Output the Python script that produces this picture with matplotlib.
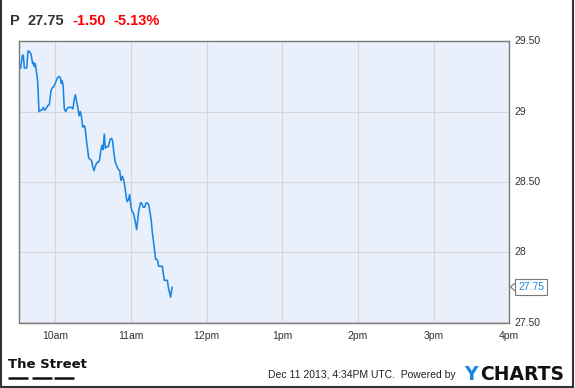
import matplotlib
matplotlib.use("Agg")
import matplotlib.pyplot as plt
from matplotlib.lines import Line2D

plt.rcParams['font.family'] = ['Liberation Sans', 'DejaVu Sans']

# minutes after 9:30 and price
minutes = [2.5, 3.8, 4.6, 5.4, 7.3, 8.3, 9.1, 10.7, 12.0, 12.8, 13.3, 14.1, 15.2, 16.0,
           17.0, 18.4, 19.2, 20.5, 21.5, 22.6, 23.7, 25.2, 26.6, 27.6, 28.9, 30.3,
           31.6, 32.9, 34.0, 34.7, 35.3, 36.1, 37.1, 38.2, 39.2, 40.3, 41.6, 42.7,
           44.0, 44.8, 45.8, 46.9, 48.0, 48.8, 49.8, 50.6, 51.7, 53.0, 53.8, 54.6,
           55.6, 56.4, 57.7, 58.8, 59.6, 60.6, 62.0, 63.3, 64.3, 65.1, 66.2, 67.0,
           67.8, 68.8, 69.6, 70.7, 72.0, 73.3, 74.6, 75.4, 76.5, 77.5, 78.9, 79.9,
           81.0, 82.0, 83.1, 83.9, 84.7, 85.5, 86.8, 87.9, 88.9, 90.0, 90.8, 91.8,
           92.9, 93.7, 94.5, 95.2, 96.0, 97.4, 98.4, 99.7, 100.8, 101.9, 103.2,
           104.2, 105.3, 106.1, 106.9, 107.9, 108.7, 109.5, 110.3, 111.1, 111.9,
           113.5, 114.8, 115.6, 116.4, 117.7, 118.8, 119.8, 120.6, 121.4, 122.2, 122.7]
prices = [29.31, 29.40, 29.40, 29.31, 29.31, 29.43, 29.43, 29.41, 29.34, 29.35, 29.32, 29.34,
          29.27, 29.21, 29.00, 29.01, 29.01, 29.03, 29.01, 29.02, 29.04, 29.05, 29.15,
          29.17, 29.18, 29.21, 29.24, 29.25, 29.24, 29.20, 29.22, 29.19, 29.02, 29.00,
          29.02, 29.03, 29.03, 29.03, 29.02, 29.08, 29.12, 29.07, 29.02, 28.97, 29.00,
          28.97, 28.89, 28.90, 28.87, 28.80, 28.73, 28.67, 28.66, 28.65, 28.61, 28.58,
          28.62, 28.64, 28.64, 28.66, 28.73, 28.76, 28.73, 28.84, 28.74, 28.75, 28.75,
          28.80, 28.81, 28.79, 28.70, 28.64, 28.61, 28.59, 28.58, 28.51, 28.54, 28.52,
          28.49, 28.44, 28.36, 28.37, 28.41, 28.32, 28.29, 28.28, 28.24, 28.20, 28.16,
          28.22, 28.29, 28.35, 28.35, 28.32, 28.32, 28.35, 28.35, 28.33, 28.27, 28.22,
          28.14, 28.07, 28.01, 27.95, 27.95, 27.94, 27.90, 27.90, 27.90, 27.85, 27.80,
          27.80, 27.80, 27.74, 27.71, 27.68, 27.73, 27.75]

x_ticks = [30, 90, 150, 210, 270, 330, 390]
x_labels = ['10am', '11am', '12pm', '1pm', '2pm', '3pm', '4pm']
y_ticks = [27.5, 28, 28.5, 29, 29.5]
y_labels = ['27.50', '28', '28.50', '29', '29.50']
last_price = 27.75

W, H = 575, 388
fig = plt.figure(figsize=(W / 100, H / 100), dpi=100)
fig.patch.set_facecolor('white')

def fx(px):
    return px / W

def fy(py):
    return 1 - py / H

ax = fig.add_axes([fx(19.3), fy(322.5), fx(509.3) - fx(19.3), fy(41.3) - fy(322.5)])
ax.set_facecolor('#eaf0fb')
ax.plot(minutes, prices, color='#1a86e3', lw=1.15, solid_joinstyle='round')
ax.set_xlim(1.4, 390)
ax.set_ylim(27.5, 29.5)
ax.set_xticks(x_ticks)
ax.set_xticklabels(x_labels)
ax.set_yticks(y_ticks)
ax.set_yticklabels(y_labels)
ax.yaxis.tick_right()
ax.tick_params(length=0, labelsize=7.5, labelcolor='#333333')
ax.tick_params(axis='x', pad=6)
ax.tick_params(axis='y', pad=4)
for lab in ax.get_yticklabels():
    lab.set_verticalalignment('center')
ax.grid(True, color='#d6d6d6', lw=0.8)
ax.set_axisbelow(True)
for s in ax.spines.values():
    s.set_color('#7a7a7a')
    s.set_linewidth(1)

# last price tag
fig.text(fx(531), fy(287), f'{last_price:.2f}', ha='center', va='center', fontsize=7.5,
         color='#1a86e3',
         bbox=dict(boxstyle='square,pad=0.25', fc='white', ec='#7a7a7a', lw=0.8))
fig.add_artist(Line2D([fx(514.5), fx(510.5), fx(514.5)], [fy(283.5), fy(287), fy(290.5)],
                      color='#7a7a7a', lw=0.8))

# header
fig.text(fx(10), fy(21), 'P', fontsize=10.5, fontweight='bold', color='#333333', va='center')
fig.text(fx(28), fy(21), '27.75', fontsize=10.5, fontweight='bold', color='#333333', va='center')
fig.text(fx(72.5), fy(21), '-1.50', fontsize=10.5, fontweight='bold', color='#ff0000', va='center')
fig.text(fx(113), fy(21), '-5.13%', fontsize=10.5, fontweight='bold', color='#ff0000', va='center')

# footer
fig.text(fx(8), fy(365), 'The Street', fontsize=9.5, fontweight='bold', color='#111111',
         va='center', family='DejaVu Sans')
for x0, x1 in [(8, 28), (32, 52), (54, 74)]:
    fig.add_artist(Line2D([fx(x0), fx(x1)], [fy(378), fy(378)], color='#111111', lw=1.8,
                          solid_capstyle='butt'))
fig.text(fx(268), fy(375), 'Dec 11 2013, 4:34PM UTC.  Powered by', fontsize=7.5,
         color='#222222', va='center')
fig.text(fx(464), fy(374), 'Y', fontsize=13.5, fontweight='bold', color='#1a86e3',
         va='center', family='DejaVu Sans')
fig.text(fx(480), fy(374), 'CHARTS', fontsize=13.5, fontweight='bold', color='#111111',
         va='center', family='DejaVu Sans')

# outer frame
fig.add_artist(Line2D([fx(0.8), fx(0.8)], [fy(0), fy(386.5)], color='#333333', lw=1.5))
fig.add_artist(Line2D([fx(573), fx(573)], [fy(0), fy(386.5)], color='#333333', lw=1.5))
fig.add_artist(Line2D([fx(0.8), fx(573)], [fy(386.5), fy(386.5)], color='#333333', lw=1.5))

fig.savefig('out.png', dpi=100)
